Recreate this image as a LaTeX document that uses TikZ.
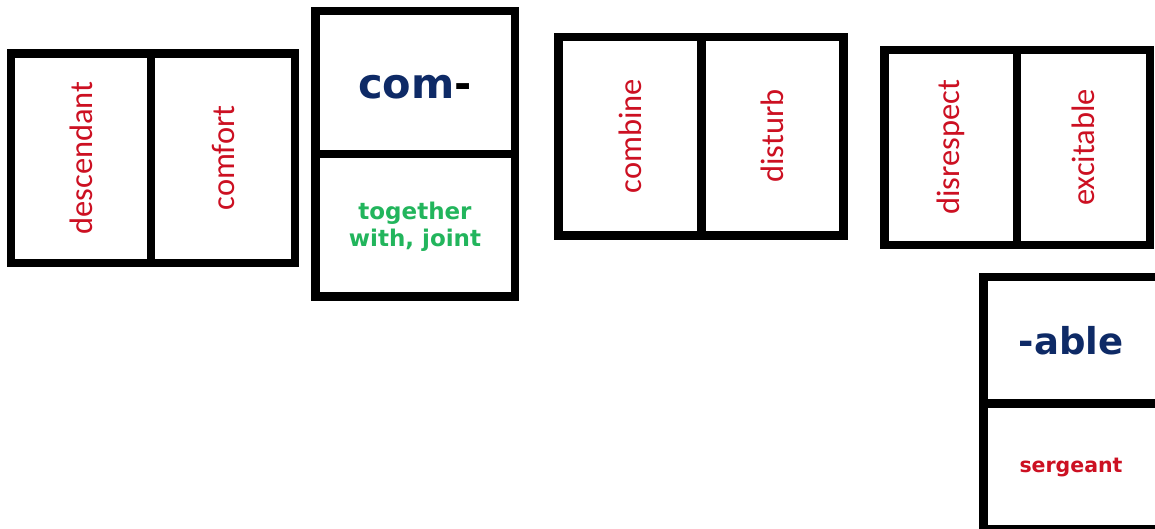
\documentclass[tikz,border=0pt]{standalone}
\usepackage{fontspec}
\newfontfamily\wordfont{Carlito}
\newfontfamily\labelfont{DejaVu Sans}
\definecolor{wordred}{HTML}{CC1022}
\definecolor{headnavy}{HTML}{0E2A66}
\definecolor{meangreen}{HTML}{22B55C}
\begin{document}
\begin{tikzpicture}[x=1pt,y=-1pt,
  card/.style={draw=black,line width=8.5pt,fill=white,line join=miter},
  rule/.style={draw=black,line width=8.5pt},
  word/.style={rotate=90,text=wordred,inner sep=0pt,
    font=\wordfont\fontsize{32.5}{38}\selectfont},
  head/.style={text=headnavy,inner sep=0pt,
    font=\labelfont\bfseries\fontsize{41.5}{48}\selectfont},
  meaning/.style={text=meangreen,inner sep=0pt,align=center,
    font=\labelfont\bfseries\fontsize{23}{27}\selectfont},
  example/.style={text=wordred,inner sep=0pt,
    font=\labelfont\bfseries\fontsize{20.5}{24}\selectfont}]
\useasboundingbox (0,0) rectangle (1155,529);
\clip (0,0) rectangle (1155,529);

% first pair of example words
\draw[card] (11,53.5) rectangle (295,263);
\draw[rule] (151,53.5) -- (151,263);
\node[word] (descendant) at (81,158) {descendant};
\node[word] (comfort) at (223,158) {comfort};

% prefix card with its meaning
\draw[card] (315.5,11) rectangle (515,296.5);
\draw[rule] (315.5,154) -- (515,154);
\node[head] (prefix) at (415,87) {com\textcolor{black}{-}};
\node[meaning] (meaning) at (415,227) {together\\with, joint};

% second pair of example words
\draw[card] (558.5,37) rectangle (843.5,235.5);
\draw[rule] (701.5,37) -- (701.5,235.5);
\node[word] (combine) at (630,136) {combine};
\node[word] (disturb) at (772.5,136) {disturb};

% third pair of example words
\draw[card] (884.5,50) rectangle (1150,245);
\draw[rule] (1017,50) -- (1017,245);
\node[word] (disrespect) at (950.5,147.5) {disrespect};
\node[word] (excitable) at (1083.5,147.5) {excitable};

% suffix card with an example
\draw[card] (983.5,277) rectangle (1159,529.5);
\draw[rule] (983.5,403.5) -- (1159,403.5);
\node[head,font=\labelfont\bfseries\fontsize{37}{42}\selectfont] (suffix) at (1071,341) {-able};
\node[example] (sergeant) at (1071,468) {sergeant};
\end{tikzpicture}
\end{document}
